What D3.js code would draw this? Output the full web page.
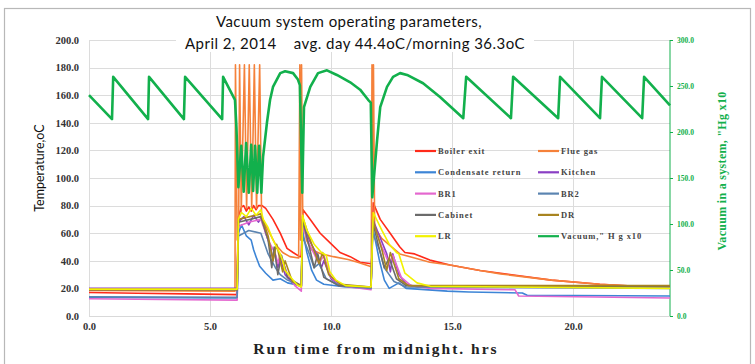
<!DOCTYPE html>
<html>
<head>
<meta charset="utf-8">
<script src="https://cdn.jsdelivr.net/npm/d3@7"></script>
<style>
  body { margin: 0; background: #fff; }
  svg { display: block; }
</style>
</head>
<body>
<svg id="chart" width="755" height="364"></svg>
<script>
// tick labels
var timeTicks = [0, 5, 10, 15, 20];
var tempTicks = [0, 20, 40, 60, 80, 100, 120, 140, 160, 180, 200];
var vacTicks = [0, 50, 100, 150, 200, 250, 300];

// [hours, value]
var boilerExit = [[0,17],[2,16.5],[4,16],[6.1,15.5],[6.17,72],[6.3,79],[6.39,80],[6.5,76],[6.6,79],[6.7,76],[6.8,80],[6.9,77],[7.0,80],[7.15,80],[7.3,78],[7.6,70],[7.9,60],[8.18,49],[8.43,46],[8.7,43],[8.76,43],[8.84,77],[9.14,70],[9.55,60],[9.96,53],[10.37,46],[10.79,43],[11.2,39],[11.6,38],[11.68,38],[11.74,82],[12.03,70],[12.44,60],[12.84,50],[13.05,46],[13.45,45],[14.08,40.5],[14.91,37],[16.15,33],[17.0,31],[19.1,26],[21.1,23],[23.2,21],[24,20.5]];
var flueGas = [[0,18.5],[6.03,18],[6.05,182],[6.12,55],[6.18,60],[6.22,182],[6.29,76],[6.42,182],[6.51,78],[6.62,182],[6.72,78],[6.83,182],[6.92,78],[7.05,182],[7.13,72],[7.4,62],[7.7,52],[8.0,46],[8.3,43],[8.66,42],[8.71,182],[8.74,55],[8.78,182],[8.83,72],[8.98,55],[9.2,48],[9.6,45],[10.1,43],[10.7,41],[11.1,39],[11.6,36],[11.66,35.5],[11.69,182],[11.72,100],[11.75,182],[11.8,64],[12.1,56],[12.84,45],[13.45,42],[14.08,39],[14.91,37],[16.15,33],[17.0,30.5],[19.1,26],[21.1,23],[23.2,21],[24,20.5]];
var condensateReturn = [[0,13.5],[6.12,13],[6.17,60],[6.3,66],[6.5,58],[6.7,55],[6.8,48],[6.9,43],[7.05,36],[7.3,31],[7.6,26],[7.9,27],[8.2,24],[8.77,22],[8.82,62],[9.0,46],[9.2,33],[9.4,26],[9.7,23],[10.6,21],[11.65,20],[11.72,64],[12.0,40],[12.2,26],[12.4,20],[12.8,24],[13.1,20],[14.8,18],[15.7,17.4],[17.9,16.7],[18.1,15],[24,14.5]];
var kitchen = [[0,20],[6.12,20],[6.17,68],[6.4,72],[6.6,66],[6.8,73],[7.0,68],[7.15,72],[7.3,60],[7.5,50],[7.6,40],[7.65,48],[7.8,35],[7.9,42],[8.1,30],[8.4,24],[8.77,21],[8.82,68],[9.1,55],[9.4,45],[9.6,35],[9.7,40],[10.0,27],[10.4,22],[11.65,20],[11.72,70],[12.0,58],[12.3,45],[12.45,32],[12.55,45],[12.8,30],[13.1,23],[13.6,21],[24,21]];
var br1 = [[0,12.5],[3,12],[6.12,11.5],[6.17,65],[6.6,68],[7.1,70],[7.4,55],[7.7,45],[7.8,38],[7.9,45],[8.2,30],[8.5,22],[8.77,18],[8.82,65],[9.1,52],[9.5,38],[9.7,44],[10.0,28],[10.4,22],[11.65,19],[11.72,68],[12.1,50],[12.4,38],[12.55,44],[12.9,28],[13.3,22],[14.1,20],[17.6,19],[17.75,14.5],[24,13]];
var br2 = [[0,14],[6.12,13.5],[6.17,58],[6.6,62],[7.1,60],[7.4,45],[7.7,35],[7.9,30],[8.2,26],[8.77,22],[8.82,58],[9.1,45],[9.3,35],[9.5,38],[9.8,27],[10.4,22],[11.65,20],[11.72,60],[12.0,48],[12.2,35],[12.4,30],[12.6,25],[13.1,21],[24,20]];
var cabinet = [[0,19],[6.12,19],[6.17,68],[7.1,72],[7.4,55],[7.55,35],[7.65,50],[7.8,30],[7.95,44],[8.2,28],[8.77,22],[8.82,70],[9.1,50],[9.3,35],[9.45,45],[9.7,28],[10.3,22],[11.65,21],[11.72,68],[12.0,48],[12.2,35],[12.4,42],[12.7,27],[13.1,22],[24,21.5]];
var dr = [[0,19],[6.12,19],[6.17,70],[7.1,74],[7.4,58],[7.6,40],[7.75,52],[8.0,32],[8.1,40],[8.4,25],[8.77,22],[8.82,72],[9.2,52],[9.5,38],[9.65,46],[9.9,30],[10.4,23],[11.65,21],[11.72,70],[12.1,48],[12.3,33],[12.45,46],[12.8,27],[13.2,22],[24,22]];
var lr = [[0,19.5],[6.12,19.5],[6.17,70],[6.3,75],[6.5,72],[6.7,78],[6.9,73],[7.1,77],[7.2,70],[7.4,64],[7.6,55],[7.9,45],[8.0,40],[8.1,33],[8.2,31],[8.6,22.5],[8.77,21],[8.82,73],[9.0,62],[9.3,52],[9.6,46],[9.8,44],[9.95,32],[10.2,26],[10.6,22],[11.65,21],[11.74,75],[12.1,62],[12.4,52],[12.7,46],[12.8,45],[13.05,31],[13.55,24],[14.1,21.5],[24,20]];
var vacuum = [[0,240],[0.95,214],[1.0,260],[2.44,214],[2.48,260],[3.92,214],[3.97,260],[5.5,214],[5.54,260],[6.03,235],[6.09,205],[6.17,140],[6.29,185],[6.39,135],[6.49,188],[6.6,134],[6.7,186],[6.78,136],[6.86,185],[6.95,134],[7.03,185],[7.12,134],[7.19,173],[7.35,210],[7.48,235],[7.6,249],[7.9,264],[8.1,266],[8.43,264],[8.63,257],[8.71,251],[8.81,134],[8.88,227],[9.14,249],[9.46,264],[9.83,267],[10.24,262],[10.79,254],[11.2,246],[11.53,235],[11.64,232],[11.7,129],[11.9,191],[12.03,227],[12.31,249],[12.56,260],[12.85,264],[13.14,262],[13.8,253],[14.5,238],[15.46,215],[15.58,260],[17.43,215],[17.52,260],[19.38,215],[19.46,260],[21.11,215],[21.19,260],[22.85,215],[22.93,260],[24,229]];

var series = [
  { name: "Boiler exit", data: boilerExit, color: "#ff2a1a" },
  { name: "Flue gas", data: flueGas, color: "#f5813a" },
  { name: "Condensate return", data: condensateReturn, color: "#3d85d6" },
  { name: "Kitchen", data: kitchen, color: "#8a3fc4" },
  { name: "BR1", data: br1, color: "#e467cf" },
  { name: "BR2", data: br2, color: "#5b84b1" },
  { name: "Cabinet", data: cabinet, color: "#6b6b6b" },
  { name: "DR", data: dr, color: "#a88420" },
  { name: "LR", data: lr, color: "#f2f200" },
  { name: "Vacuum,\" H g x10", data: vacuum, color: "#12b04c", right: true }
];

var svg = d3.select("#chart");
var plotL = 89, plotR = 670, plotT = 40, plotB = 316;

var x = d3.scaleLinear().domain([0, 24]).range([plotL, plotR]);
var y = d3.scaleLinear().domain([0, 200]).range([plotB, plotT]);
var y2 = d3.scaleLinear().domain([0, 300]).range([plotB, plotT]);

svg.append("rect").attr("width", 755).attr("height", 364).attr("fill", "#fff");
svg.append("rect")
  .attr("x", 4.5).attr("y", 8.5).attr("width", 746).attr("height", 400)
  .attr("fill", "none").attr("stroke", "#b8b8b8").attr("stroke-width", 1.2);

// grid
var grid = svg.append("g");
grid.selectAll(".h").data(tempTicks).join("line")
  .attr("x1", plotL).attr("x2", plotR)
  .attr("y1", d => Math.round(y(d)) + 0.5).attr("y2", d => Math.round(y(d)) + 0.5)
  .attr("stroke", "#dcdcdc");
grid.selectAll(".v").data(timeTicks).join("line")
  .attr("x1", d => Math.round(x(d)) + 0.5).attr("x2", d => Math.round(x(d)) + 0.5)
  .attr("y1", plotT).attr("y2", plotB)
  .attr("stroke", "#dcdcdc");

// axes
var serif = "'Liberation Serif','DejaVu Serif',serif";
var yAxis = d3.axisLeft(y).tickValues(tempTicks).tickFormat(d3.format(".1f")).tickSize(0).tickPadding(10);
svg.append("g").attr("transform", "translate(" + plotL + ",0)").call(yAxis)
  .call(g => g.select(".domain").remove())
  .selectAll("text").attr("font-family", serif).attr("font-weight", "bold")
  .attr("font-size", 10.5).attr("fill", "#333");

var xAxis = d3.axisBottom(x).tickValues(timeTicks).tickFormat(d3.format(".1f")).tickSize(0).tickPadding(7);
svg.append("g").attr("transform", "translate(0," + plotB + ")").call(xAxis)
  .call(g => g.select(".domain").attr("stroke", "#d9d9d9"))
  .selectAll("text").attr("font-family", serif).attr("font-weight", "bold")
  .attr("font-size", 10.5).attr("fill", "#333");

var yAxis2 = d3.axisRight(y2).tickValues(vacTicks).tickFormat(d3.format(".1f")).tickSize(3).tickPadding(4);
svg.append("g").attr("transform", "translate(" + plotR + ",0)").call(yAxis2)
  .call(g => g.select(".domain").attr("stroke", "#12b04c").attr("d", "M0," + plotT + "V" + plotB))
  .call(g => g.selectAll(".tick line").attr("stroke", "#12b04c"))
  .selectAll("text").attr("font-family", serif).attr("font-weight", "bold")
  .attr("font-size", 7.5).attr("fill", "#12b04c");

// lines
var line = d3.line().x(d => x(d[0]));
series.forEach(function (s) {
  var ys = s.right ? y2 : y;
  svg.append("path")
    .datum(s.data)
    .attr("fill", "none")
    .attr("stroke", s.color)
    .attr("stroke-width", s.right ? 2.6 : 1.6)
    .attr("stroke-linejoin", "round")
    .attr("d", line.y(d => ys(d[1])));
});

// legend
var lg = svg.append("g");
series.forEach(function (s, i) {
  var col = i % 2, row = Math.floor(i / 2);
  var lx = col ? 538 : 415, ly = 151 + row * 21.3;
  lg.append("line").attr("x1", lx).attr("x2", lx + 21).attr("y1", ly).attr("y2", ly)
    .attr("stroke", s.color).attr("stroke-width", 2.2);
  lg.append("text").attr("x", lx + 23).attr("y", ly + 3)
    .attr("font-family", serif).attr("font-weight", "bold").attr("font-size", 8.5)
    .attr("letter-spacing", 0.9).attr("fill", "#444").text(s.name);
});

// titles
var sans = "Lato,'Open Sans',sans-serif";
svg.append("text").attr("x", 349).attr("y", 27).attr("text-anchor", "middle")
  .attr("font-family", sans).attr("font-size", 15).attr("letter-spacing", 0.45).attr("fill", "#111")
  .text("Vacuum system operating parameters,");
svg.append("rect").attr("x", 176).attr("y", 34).attr("width", 358).attr("height", 18).attr("fill", "#fff");
svg.append("text").attr("x", 355).attr("y", 49).attr("text-anchor", "middle")
  .attr("font-family", sans).attr("font-size", 15).attr("letter-spacing", 0.45).attr("fill", "#111")
  .attr("xml:space", "preserve")
  .text("April 2, 2014    avg. day 44.4oC/morning 36.3oC");

svg.append("text").attr("transform", "translate(44,168) rotate(-90)")
  .attr("text-anchor", "middle").attr("font-family", sans).attr("font-size", 12.5).attr("fill", "#111")
  .text("Temperature,oC");

svg.append("text").attr("transform", "translate(726,171) rotate(-90)")
  .attr("text-anchor", "middle").attr("font-family", serif).attr("font-weight", "bold")
  .attr("font-size", 12).attr("letter-spacing", 0.3).attr("fill", "#12b04c")
  .text("Vacuum in a system, \"Hg x10");

svg.append("text").attr("x", 376).attr("y", 354).attr("text-anchor", "middle")
  .attr("font-family", serif).attr("font-weight", "bold").attr("font-size", 15.5)
  .attr("letter-spacing", 2).attr("fill", "#222")
  .text("Run time from midnight. hrs");
</script>
</body>
</html>
